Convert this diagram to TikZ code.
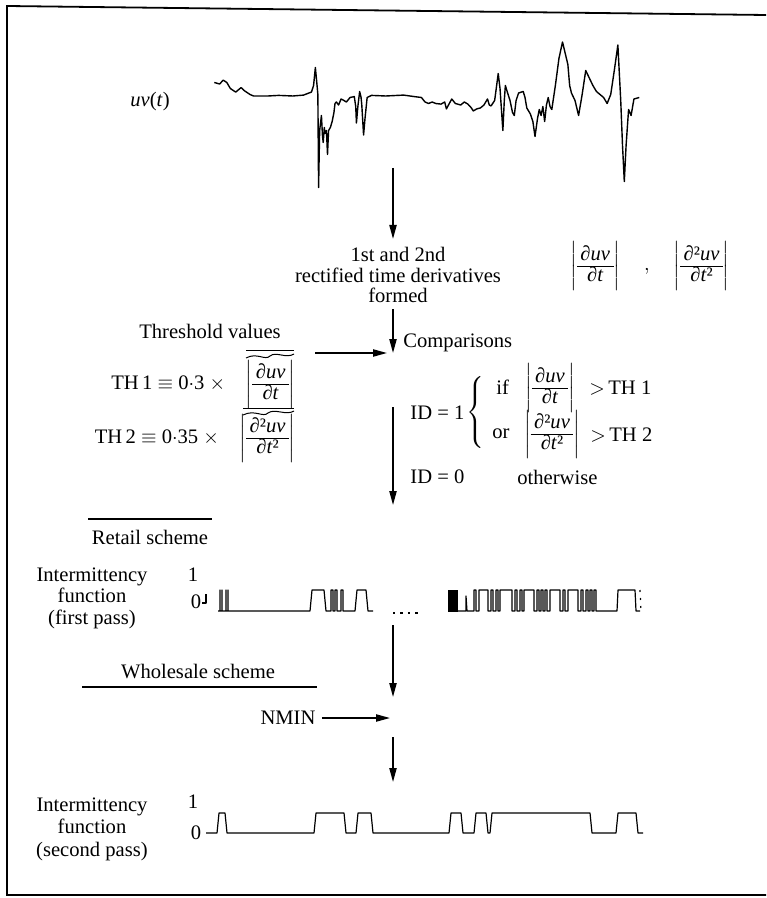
\documentclass[tikz,border=0pt]{standalone}
\usepackage{amsmath}
\usepackage{fontspec}
\setmainfont{Liberation Serif}
\usetikzlibrary{arrows.meta}
\newcommand{\myfrac}[2]{\vcenter{\hbox{\renewcommand{\arraystretch}{0.78}\begin{tabular}{@{\,}c@{\,}}#1\\\hline #2\end{tabular}}}}
\newcommand{\dA}{\ensuremath{\left|\myfrac{∂\textit{uv}}{∂\textit{t}}\right|}}
\newcommand{\dB}{\ensuremath{\left|\myfrac{∂²\textit{uv}}{∂\textit{t}²}\right|}}
\begin{document}
\begin{tikzpicture}[x=0.5pt,y=-0.5pt,
  font=\fontsize{10.3}{11}\selectfont,
  arr/.style={line width=0.8pt,-{Triangle[length=7pt,width=3.6pt]}},
  sig/.style={line width=0.7pt, line join=round},
  pulse/.style={line width=0.6pt, line join=round},
  lbl/.style={inner sep=0pt, align=center},
  deco/.style={line width=0.5pt},
  framel/.style={line width=0.9pt}]
\useasboundingbox (0,0) rectangle (766,898);
% frame
\draw[framel] (766,15) -- (7,6) -- (7,895) -- (766,895);

% uv(t)
\node[lbl] (uvt) at (150,102) {\textit{uv}(\textit{t})};
\begin{scope}[shift={(100,40.5)}, x=0.17857pt, y=-0.15pt]
\draw[sig] (320,140) -- (335,145) -- (345,132) -- (355,140) -- (365,160) -- (380,172) -- (395,157) -- (405,168) -- (420,180) -- (430,185) -- (470,185) -- (500,183) -- (540,185) -- (570,182) -- (585,175) -- (592,172) -- (598,150) -- (603,90) -- (607,140) -- (610,180) -- (612,490) -- (615,300) -- (620,250) -- (623,320) -- (625,340) -- (628,290) -- (630,310) -- (634,300) -- (637,380) -- (640,300) -- (645,290) -- (650,270) -- (655,240) -- (658,210) -- (662,205) -- (668,215) -- (675,195) -- (680,198) -- (690,205) -- (700,190) -- (712,187) -- (716,220) -- (718,275) -- (722,220) -- (727,170) -- (731,190) -- (733,215) -- (738,315) -- (742,260) -- (748,190) -- (760,183) -- (800,185) -- (850,182) -- (880,187) -- (900,190) -- (910,205) -- (920,210) -- (930,205) -- (940,210) -- (955,212) -- (965,205) -- (970,228) -- (978,210) -- (985,195) -- (995,210) -- (1010,215) -- (1020,205) -- (1030,212) -- (1040,225) -- (1045,235) -- (1055,228) -- (1065,225) -- (1075,215) -- (1085,195) -- (1090,215) -- (1095,218) -- (1105,200) -- (1115,110) -- (1120,160) -- (1128,300) -- (1132,200) -- (1135,150) -- (1140,170) -- (1148,200) -- (1155,240) -- (1160,250) -- (1165,200) -- (1172,175) -- (1185,170) -- (1190,190) -- (1195,225) -- (1205,245) -- (1212,270) -- (1218,320) -- (1225,260) -- (1230,230) -- (1235,250) -- (1240,220) -- (1245,270) -- (1250,215) -- (1255,190) -- (1260,220) -- (1265,230) -- (1275,150) -- (1285,60) -- (1295,5) -- (1302,40) -- (1310,80) -- (1315,150) -- (1320,175) -- (1330,200) -- (1340,250) -- (1350,180) -- (1360,100) -- (1368,120) -- (1380,150) -- (1390,170) -- (1400,180) -- (1410,190) -- (1420,210) -- (1430,180) -- (1440,100) -- (1450,15) -- (1458,200) -- (1463,350) -- (1468,470) -- (1473,350) -- (1480,230) -- (1487,250) -- (1495,195) -- (1510,190);
\end{scope}

% first arrow and derivative text
\coordinate (a1s) at (393,168);
\node[lbl, font=\fontsize{10.3}{10.2}\selectfont] (deriv) at (398,275) {1st and 2nd\\rectified time derivatives\\formed};
\draw[arr] (a1s) -- ([yshift=4]deriv.north -| a1s);
\node[lbl] (dform) at (650,266) {$\dA\quad,\quad\dB$};

% comparisons
\coordinate (cmp) at (393,353);
\draw[arr] ([yshift=-3]deriv.south -| a1s) -- (cmp);
\node[lbl, anchor=west] (comp) at (403,343) {Comparisons};
\node[lbl] (thr) at (210,331) {Threshold values};
\draw[arr] (315,353) -- (cmp -| 387,0);

\node[lbl, anchor=east] (th1) at (296,384) {TH\,1 $\equiv$ 0$\cdot$3 $\times$\quad \dA};
\node[lbl, anchor=east] (th2) at (296,438) {TH\,2 $\equiv$ 0$\cdot$35 $\times$\quad \dB};
% mean decorations (bar over tilde)
\draw[deco] (246,350) -- (294,350);
\draw[deco] (246,358) .. controls (257,352) and (265,361) .. (270,356) .. controls (276,351) and (286,359) .. (294,354);
\draw[deco] (243,408) -- (294,408);
\draw[deco] (243,415) .. controls (255,409) and (263,418) .. (268,413) .. controls (275,408) and (286,416) .. (294,411);

% ID block
\node[lbl, anchor=west] (id1) at (410,413) {ID = 1};
\node[lbl] (brace) at (477,413) {$\left\{\vrule width 0pt height 16pt depth 16pt\right.$};
\node[lbl, anchor=west] (if) at (496,387) {if};
\node[lbl] (f1) at (550,388) {\dA};
\node[lbl, anchor=west] (g1) at (589,388) {$>$\,TH 1};
\node[lbl, anchor=west] (or) at (492,434) {or};
\node[lbl] (f2) at (552,434) {\dB};
\node[lbl, anchor=west] (g2) at (590,435) {$>$\,TH 2};
\node[lbl, anchor=west] (id0) at (410,477) {ID = 0};
\node[lbl, anchor=west] (oth) at (517,477) {otherwise};
\coordinate (a3s) at (393,407);
\coordinate (a3e) at (393,505);
\draw[arr] (a3s) -- (a3e);

% retail scheme
\node[lbl] (retail) at (150,537) {Retail scheme};
\draw[line width=0.7pt] (88,519) -- (212,519);

% first pass
\node[lbl, font=\fontsize{10.3}{10.8}\selectfont] (ifp) at (92,598) {Intermittency\\function\\(first pass)};
\node[lbl] (one1) at (193,575) {1};
\node[lbl] (zero1) at (196,602) {0};
\draw[pulse] (202,603) -- (206,603) -- (206,594);
\begin{scope}[yshift=-9]
\draw[pulse] (218,593) -- (220,593) -- (220,572) -- (220,593) -- (222,593) -- (222,572) -- (222,593) -- (226,593) -- (226,572) -- (226,593) -- (228,593) -- (228,572) -- (228,593) -- (310,593) -- (312,572) -- (324,572) -- (326,593)
  -- (331,593) -- (331,572) -- (333,572) -- (333,593) -- (335,593) -- (335,572) -- (337,572) -- (337,593) -- (341,593) -- (341,572) -- (343,572) -- (343,593) -- (355,593) -- (357,572) -- (366,572) -- (368,593) -- (373,593);
\draw[line width=0.7pt, dash pattern=on 1.2pt off 2.5pt] (393,595) -- (420,595);
\fill (448,572) rectangle (458,594);
\draw[pulse] (458,593) -- (466,593) -- (466,578) -- (467,593) -- (472,593)
  -- (474,593) -- (474,572) -- (476,572) -- (476,593)
  -- (479,593) -- (479,572) -- (488,572) -- (488,593)
  -- (491,593) -- (491,572) -- (493,572) -- (493,593)
  -- (496,593) -- (496,572) -- (498,572) -- (498,593)
  -- (500,593) -- (500,572) -- (512,572) -- (512,593)
  -- (515,593) -- (515,572) -- (517,572) -- (517,593)
  -- (520,593) -- (520,572) -- (522,572) -- (522,593)
  -- (524,593) -- (524,572) -- (534,572) -- (534,593)
  -- (537,593) -- (537,572) -- (539,572) -- (539,593)
  -- (541,593) -- (541,572) -- (543,572) -- (543,593)
  -- (545,593) -- (545,572) -- (547,572) -- (547,593)
  -- (550,593) -- (550,572) -- (560,572) -- (560,593)
  -- (563,593) -- (563,572) -- (565,572) -- (565,593)
  -- (568,593) -- (568,572) -- (578,572) -- (578,593)
  -- (581,593) -- (581,572) -- (583,572) -- (583,593)
  -- (586,593) -- (586,572) -- (588,572) -- (588,593)
  -- (590,593) -- (590,572) -- (592,572) -- (592,593)
  -- (594,593) -- (594,572) -- (596,572) -- (596,593)
  -- (617,593) -- (618,572) -- (635,572) -- (636,593) -- (640,593);
\draw[line width=0.6pt, dash pattern=on 1pt off 3pt] (640,572) -- (641,593);
\end{scope}

% wholesale scheme
\coordinate (a4s) at (393,625);
\coordinate (nm) at (393,718);
\draw[arr] (a4s) -- (393,697);
\node[lbl] (whole) at (198,672) {Wholesale scheme};
\draw[line width=0.7pt] (82,687) -- (317,687);
\node[lbl] (nmin) at (288,718) {NMIN};
\draw[arr] (nmin.east) ++(6,0) -- (nm -| 390,0);
\coordinate (a5s) at (393,737);
\coordinate (a5e) at (393,782);
\draw[arr] (a5s) -- (a5e);

% second pass
\node[lbl, font=\fontsize{10.3}{11.2}\selectfont] (isp) at (92,829) {Intermittency\\function\\(second pass)};
\node[lbl] (one2) at (193,802) {1};
\node[lbl] (zero2) at (196,833) {0};
\draw[pulse] (206,833) -- (217,833) -- (219,813) -- (225,813) -- (227,833)
  -- (314,833) -- (316,813) -- (344,813) -- (346,833)
  -- (356,833) -- (358,813) -- (371,813) -- (373,833)
  -- (449,833) -- (451,813) -- (461,813) -- (463,833)
  -- (474,833) -- (476,813) -- (486,813) -- (488,833)
  -- (490,833) -- (492,813) -- (590,813) -- (592,833)
  -- (616,833) -- (618,813) -- (636,813) -- (638,833) -- (643,833);
\end{tikzpicture}
\end{document}
